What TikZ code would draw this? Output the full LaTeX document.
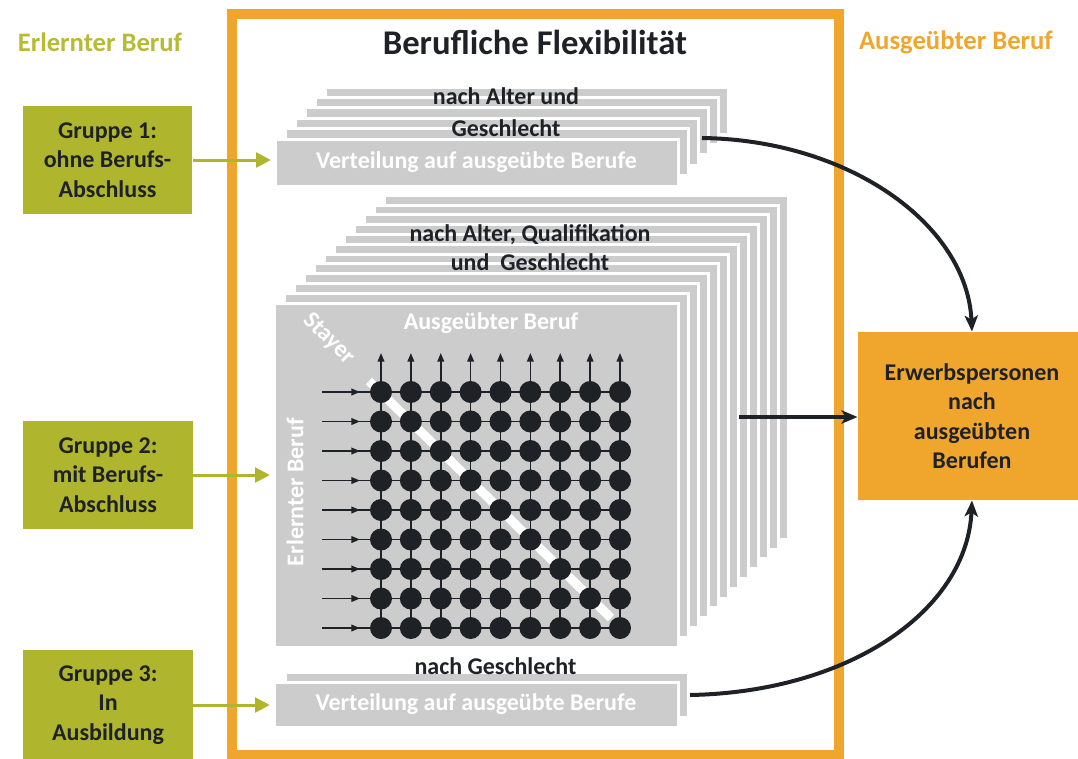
\documentclass[tikz,border=0pt]{standalone}
\usepackage{fontspec}
\setmainfont{Carlito}
\usetikzlibrary{arrows.meta}

\definecolor{grfill}{RGB}{176,181,46}
\definecolor{grhead}{RGB}{182,188,50}
\definecolor{orfill}{RGB}{240,166,44}
\definecolor{sheetgray}{RGB}{204,204,204}
\definecolor{inkdark}{RGB}{30,33,38}

\tikzset{every picture/.style={line width=0.75pt}}
\tikzset{
  lbl/.style={font=\bfseries\fontsize{18}{22}\selectfont, align=center, inner sep=0pt, text=inkdark},
  headlbl/.style={lbl, font=\bfseries\fontsize{20}{24}\selectfont},
  grbox/.style={lbl, fill=grfill, minimum width=127pt, minimum height=81pt},
  sheet/.style={fill=sheetgray, draw=white, line width=2.25pt},
  sheetlbl/.style={sheet, lbl, text=white},
  grarrow/.style={draw=grfill, line width=2.25pt, -{Triangle[length=11pt,width=11pt]}, shorten >=2pt},
  blkarrow/.style={draw=inkdark, line width=3pt, -{Stealth[length=12pt,width=10pt,inset=3pt]}},
  gridln/.style={draw=inkdark, line width=1.3pt},
  gridtip/.style={gridln, -{Triangle[length=6.5pt,width=5pt]}},
  dot/.style={circle, fill=inkdark, minimum size=16.5pt, inner sep=0pt}
}

\begin{document}
\begin{tikzpicture}[x=0.75pt,y=0.75pt,yscale=-1]
        \clip (0,0) rectangle (1078,758);

        %Headings
        \node[headlbl, text=grhead] (hlearn) at (100,42) {Erlernter Beruf};
        \node[headlbl, text=orfill] (hwork) at (956,42) {Ausgeübter Beruf};
        \node[lbl, font=\bfseries\fontsize{26}{30}\selectfont] (title) at (535,42) {Berufliche Flexibilität};

        %Shape: Frame
        \draw[draw=orfill, line width=7.5pt] (232,14) rectangle (839,755);

        %Groups
        \node[grbox] (g1) at (107.5,160) {Gruppe 1:\\ohne Berufs-\\Abschluss};
        \node[grbox] (g2) at (108,475) {Gruppe 2:\\mit Berufs-\\Abschluss};
        \node[grbox, minimum height=82.5pt] (g3) at (108,705) {Gruppe 3:\\In\\Ausbildung};

        %Stack 1
        \foreach \k in {5,...,1}
          \draw[sheet] ({275+10*\k},{139-10.4*\k}) rectangle ++(403,47);
        \node[sheetlbl, minimum width=302.25pt, minimum height=35.25pt] (vt1) at (476.5,162.5) {Verteilung auf ausgeübte Berufe};
        \node[lbl] (s1txt) at (506,112) {nach Alter und\\[2pt]Geschlecht};

        %Stack 2
        \foreach \k in {11,...,1}
          \draw[sheet] ({274+10*\k},{303-9.8*\k}) rectangle ++(404,344);
        \node[sheet, minimum width=303pt, minimum height=258pt] (mat) at (476,475) {};
        \node[lbl] (s2txt) at (530,247.5) {nach Alter, Qualifikation\\und~ Geschlecht};
        \node[lbl, text=white] (work) at (491,323) {Ausgeübter Beruf};
        \node[lbl, text=white, rotate=90] (learn) at (295,492) {Erlernter Beruf};
        \node[lbl, text=white, rotate=-45] (stay) at (329,339) {Stayer};

        %Matrix
        \foreach \i in {1,...,9} {
          \foreach \j in {1,...,9}
            \coordinate (c-\i-\j) at ({381+29.875*(\i-1)},{392+29.5*(\j-1)});
          \coordinate (u-\i) at ({381+29.875*(\i-1)},353);
          \coordinate (l-\i) at (322,{392+29.5*(\i-1)});
        }
        \foreach \j in {1,...,9} {
          \draw[gridln] (l-\j) -- (c-9-\j);
          \draw[gridtip] (l-\j) -- ++(38,0);
          \draw[gridtip] (c-\j-9) -- (u-\j);
        }
        \draw[white, line width=6.75pt] (369,381) -- (611,618);
        \foreach \i in {1,...,9}
          \foreach \j in {1,...,9}
            \node[dot] (d-\i-\j) at (c-\i-\j) {};

        %Stack 3
        \draw[sheet] (285,672) rectangle ++(403,45);
        \node[sheetlbl, minimum width=303pt, minimum height=33.75pt] (vt3) at (476,704.5) {Verteilung auf ausgeübte Berufe};
        \node[lbl] (s3txt) at (495.5,666) {nach Geschlecht};

        %Result
        \node[lbl, fill=orfill, minimum width=171pt, minimum height=126pt, text=inkdark] (erw) at (972,416) {Erwerbspersonen\\nach\\ausgeübten\\Berufen};

        %Arrows
        \draw[grarrow] (g1.east) -- (g1.east -| vt1.west);
        \draw[grarrow] (g2.east) -- (g2.east -| mat.west);
        \draw[grarrow] (g3.east) -- (g3.east -| vt3.west);

        \coordinate (o1) at (702,138);
        \coordinate (o2) at (739,417);
        \coordinate (o3) at (690,695);
        \draw[blkarrow] (o1) .. controls (850,140) and (967,225) .. (erw.north);
        \draw[blkarrow] (o2) -- (o2 -| erw.west);
        \draw[blkarrow] (o3) .. controls (850,692) and (967,610) .. (erw.south);

\end{tikzpicture}
\end{document}
